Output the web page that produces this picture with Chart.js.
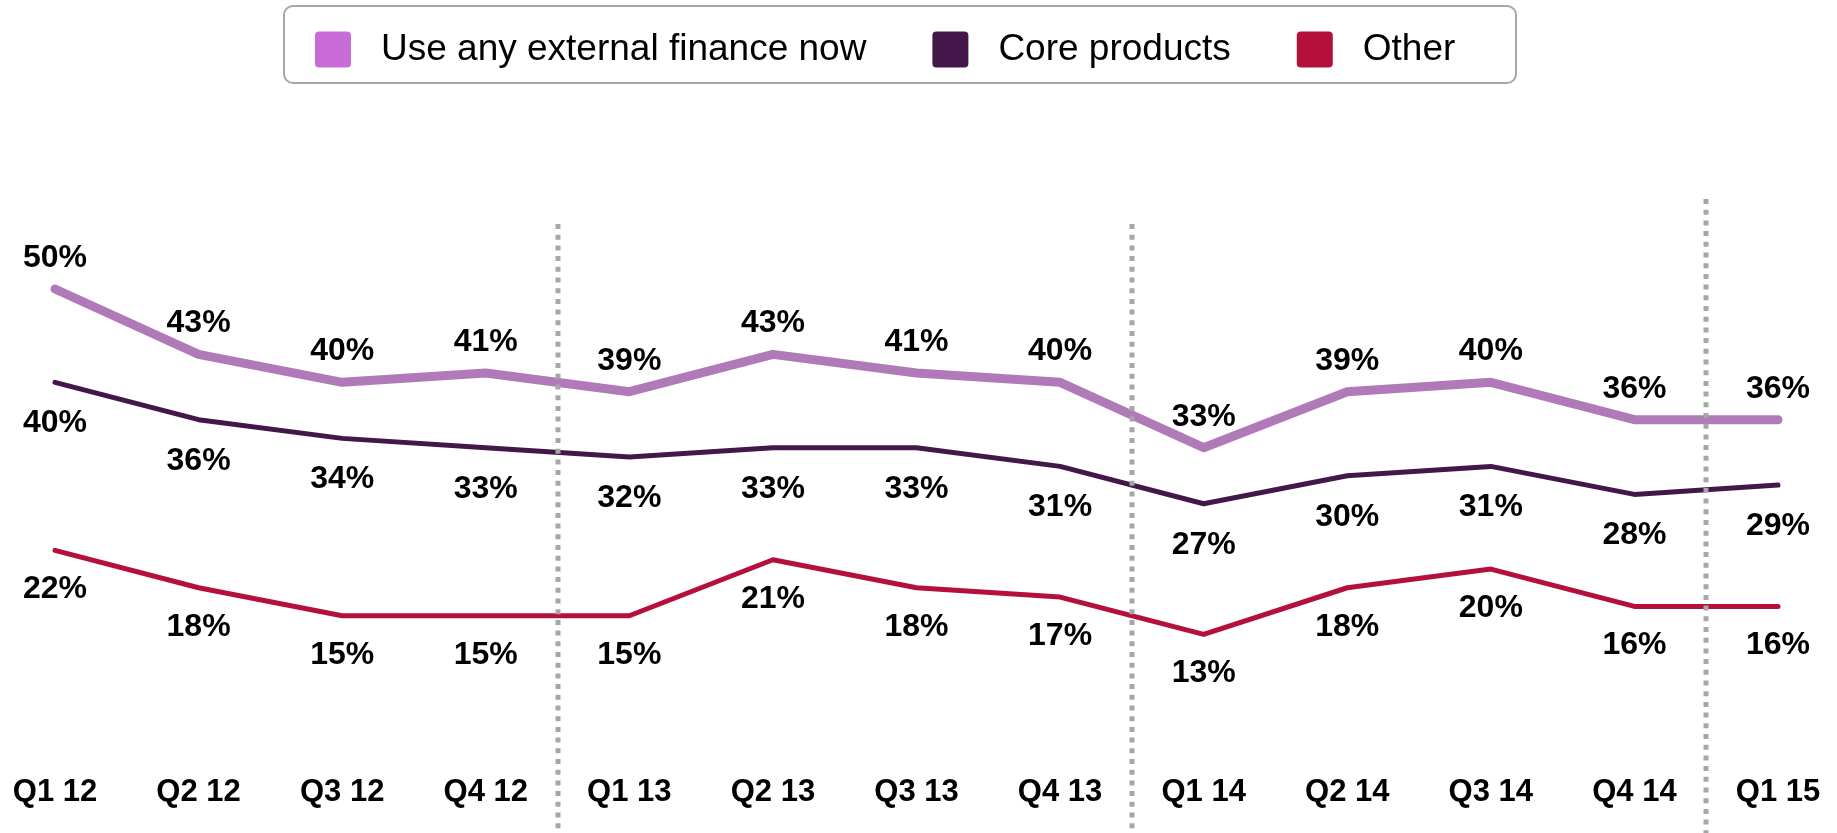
<!DOCTYPE html>
<html>
<head>
<meta charset="utf-8">
<script src="https://cdn.jsdelivr.net/npm/chart.js@4"></script>
<style>
  html, body { margin: 0; padding: 0; background: #fff; }
  canvas { display: block; }
</style>
</head>
<body>
<canvas id="Chart" width="1837" height="833"></canvas>
<script>
const quarters = ["Q1 12", "Q2 12", "Q3 12", "Q4 12", "Q1 13", "Q2 13", "Q3 13", "Q4 13", "Q1 14", "Q2 14", "Q3 14", "Q4 14", "Q1 15"];
const useAnyFinance = [50, 43, 40, 41, 39, 43, 41, 40, 33, 39, 40, 36, 36];
const coreProducts = [40, 36, 34, 33, 32, 33, 33, 31, 27, 30, 31, 28, 29];
const otherFinance = [22, 18, 15, 15, 15, 21, 18, 17, 13, 18, 20, 16, 16];

const seriesNames = ["Use any external finance now", "Core products", "Other"];
const lineColors = ["#B07AB8", "#44174A", "#B5103C"];
const swatchColors = ["#C86DD7", "#44174A", "#B5103C"];
const lineWidths = [9, 5, 5];
// label offset from the point: negative = above the line
const labelOffsets = [-31, 41, 39];

// dotted separators between the years (between Q4 and Q1)
const yearBreaks = [3.5, 7.5, 11.5];
const breakRise = [65, 65, 90];

const FONT = "'Liberation Sans', Arial, sans-serif";

const yearLines = {
  id: "yearLines",
  afterDatasetsDraw(chart) {
    const { ctx, chartArea, scales } = chart;
    ctx.save();
    ctx.strokeStyle = "#A6A6A6";
    ctx.lineWidth = 5;
    ctx.setLineDash([5, 5.7]);
    yearBreaks.forEach((b, i) => {
      const x = Math.round(scales.x.getPixelForValue(b));
      ctx.beginPath();
      ctx.moveTo(x, chartArea.top - breakRise[i]);
      ctx.lineTo(x, chart.height);
      ctx.stroke();
    });
    ctx.restore();
  },
};

const pointLabels = {
  id: "pointLabels",
  afterDatasetsDraw(chart) {
    const { ctx } = chart;
    ctx.save();
    ctx.font = "bold 32px " + FONT;
    ctx.fillStyle = "#000";
    ctx.textAlign = "center";
    ctx.textBaseline = "middle";
    chart.data.datasets.forEach((ds, i) => {
      chart.getDatasetMeta(i).data.forEach((pt, j) => {
        ctx.fillText(ds.data[j] + "%", pt.x, pt.y + labelOffsets[i]);
      });
    });
    ctx.restore();
  },
};

// boxed legend across the top
const boxLegend = {
  id: "boxLegend",
  afterDraw(chart) {
    const { ctx } = chart;
    const box = { left: 284, top: 6, width: 1232, height: 77 };
    const sw = 36, gapText = 30, gapItem = 66;
    ctx.save();
    ctx.strokeStyle = "#A6A6A6";
    ctx.lineWidth = 2;
    ctx.beginPath();
    ctx.roundRect(box.left, box.top, box.width, box.height, 9);
    ctx.stroke();

    ctx.font = "37px " + FONT;
    ctx.textBaseline = "middle";
    const cy = box.top + box.height / 2 + 5;
    let x = box.left + 31;
    chart.data.datasets.forEach((ds, i) => {
      ctx.fillStyle = swatchColors[i];
      ctx.beginPath();
      ctx.roundRect(x, cy - sw / 2, sw, sw, 4);
      ctx.fill();
      x += sw + gapText;
      ctx.fillStyle = "#000";
      ctx.fillText(ds.label, x, cy);
      x += ctx.measureText(ds.label).width + gapItem;
    });
    ctx.restore();
  },
};

const seriesData = [useAnyFinance, coreProducts, otherFinance];

new Chart(document.getElementById("Chart"), {
  type: "line",
  data: {
    labels: quarters,
    datasets: seriesData.map((d, i) => ({
      label: seriesNames[i],
      data: d,
      borderColor: lineColors[i],
      backgroundColor: swatchColors[i],
      borderWidth: lineWidths[i],
      borderCapStyle: "round",
      borderJoinStyle: "round",
      pointRadius: 0,
      tension: 0,
      fill: false,
      clip: false,
    })),
  },
  options: {
    responsive: false,
    animation: false,
    layout: { padding: { top: 289, left: 55, right: 59, bottom: 4 } },
    plugins: {
      legend: { display: false },
      tooltip: { enabled: false },
    },
    scales: {
      x: {
        offset: false,
        grid: { display: false, drawTicks: false },
        border: { display: false },
        ticks: {
          color: "#000",
          font: { family: FONT, size: 31, weight: "bold" },
          padding: 18,
          maxRotation: 0,
          autoSkip: false,
        },
        // let the layout padding alone decide the plot edges
        afterFit(scale) {
          scale.paddingLeft = 0;
          scale.paddingRight = 0;
        },
      },
      y: {
        display: false,
        min: 0,
        max: 50,
      },
    },
  },
  plugins: [yearLines, pointLabels, boxLegend],
});
</script>
</body>
</html>
